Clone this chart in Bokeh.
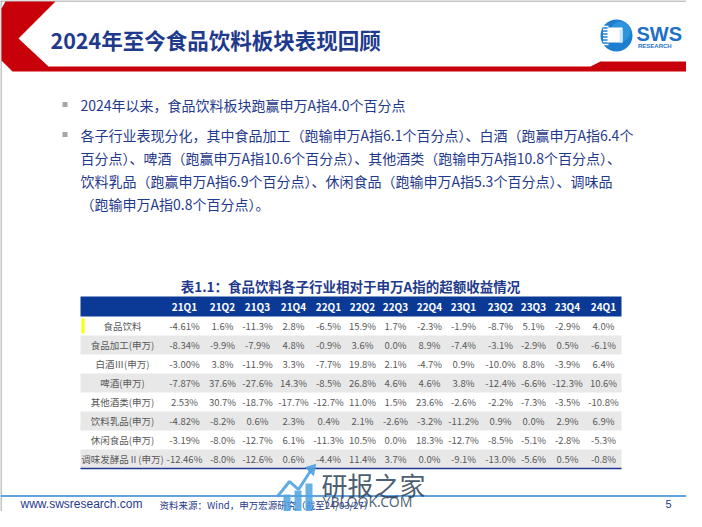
from bokeh.plotting import figure
from bokeh.models import ColumnDataSource, Range1d
from bokeh.core.properties import value
from bokeh.embed import file_html
from bokeh.resources import INLINE

# ---------------- data ----------------
periods = ["21Q1", "21Q2", "21Q3", "21Q4", "22Q1", "22Q2", "22Q3",
           "22Q4", "23Q1", "23Q2", "23Q3", "23Q4", "24Q1"]
industries = ["食品饮料", "食品加工(申万)", "白酒Ⅲ(申万)", "啤酒(申万)",
              "其他酒类(申万)", "饮料乳品(申万)", "休闲食品(申万)", "调味发酵品Ⅱ(申万)"]
food_beverage = [-4.61, 1.6, -11.3, 2.8, -6.5, 15.9, 1.7, -2.3, -1.9, -8.7, 5.1, -2.9, 4.0]
food_processing = [-8.34, -9.9, -7.9, 4.8, -0.9, 3.6, 0.0, 8.9, -7.4, -3.1, -2.9, 0.5, -6.1]
baijiu = [-3.00, 3.8, -11.9, 3.3, -7.7, 19.8, 2.1, -4.7, 0.9, -10.0, 8.8, -3.9, 6.4]
beer = [-7.87, 37.6, -27.6, 14.3, -8.5, 26.8, 4.6, 4.6, 3.8, -12.4, -6.6, -12.3, 10.6]
other_liquor = [2.53, 30.7, -18.7, -17.7, -12.7, 11.0, 1.5, 23.6, -2.6, -2.2, -7.3, -3.5, -10.8]
beverage_dairy = [-4.82, -8.2, 0.6, 2.3, 0.4, 2.1, -2.6, -3.2, -11.2, 0.9, 0.0, 2.9, 6.9]
snacks = [-3.19, -8.0, -12.7, 6.1, -11.3, 10.5, 0.0, 18.3, -12.7, -8.5, -5.1, -2.8, -5.3]
condiments = [-12.46, -8.0, -12.6, 0.6, -4.4, 11.4, 3.7, 0.0, -9.1, -13.0, -5.6, 0.5, -0.8]
table_rows = [food_beverage, food_processing, baijiu, beer, other_liquor,
              beverage_dairy, snacks, condiments]

title_text = "2024年至今食品饮料板块表现回顾"
bullet_lines = [
    "2024年以来，食品饮料板块跑赢申万A指4.0个百分点",
    "各子行业表现分化，其中食品加工（跑输申万A指6.1个百分点）、白酒（跑赢申万A指6.4个",
    "百分点）、啤酒（跑赢申万A指10.6个百分点）、其他酒类（跑输申万A指10.8个百分点）、",
    "饮料乳品（跑赢申万A指6.9个百分点）、休闲食品（跑输申万A指5.3个百分点）、调味品",
    "（跑输申万A指0.8个百分点）。",
]
table_title = "表1.1：食品饮料各子行业相对于申万A指的超额收益情况"
source_text = "资料来源：Wind，申万宏源研究（截至24/03/27）"

# ---------------- layout / style ----------------
W, H = 686, 511
NAVY = "#1F3A8C"
RED = "#C8000A"
CJK = value("Noto Sans CJK SC")

p = figure(width=W, height=H, x_range=Range1d(0, W), y_range=Range1d(H, 0),
           x_axis_type=None, y_axis_type=None, output_backend="svg",
           toolbar_location=None, min_border=0, outline_line_color=None,
           background_fill_color="white", border_fill_color="white")
p.grid.visible = False

# slide frame (left / top edges)
p.segment(x0=[0.5, 0], y0=[0, 0.5], x1=[0.5, W], y1=[H, 0.5], line_color="#8C8C8C", line_width=1)

# red chevron header + band
p.patch([5, 55, 18, 48, 590, 600, 697, 697, 12, 1, 1],
        [1, 1, 38, 66, 66, 61, 61, 71, 71, 60, 8], color=RED, line_color=None)

p.text(x=[50], y=[39], text=[title_text], text_font=CJK, text_font_style="bold",
       text_font_size="21.5px", text_color=NAVY, text_baseline="middle", text_align="left")

# SWS logo
p.circle(x=[616], y=[35], radius=16, fill_color="#1E7FD0", line_color=None)
p.circle(x=[620], y=[31], radius=10, fill_color="#38A4E6", line_color=None, fill_alpha=0.6)
for yy in [26, 29, 32, 35, 38, 41, 44]:
    p.segment(x0=[602.5], y0=[yy], x1=[608], y1=[yy], line_color="white", line_width=1.4)
p.quad(left=[607], right=[622], top=[27], bottom=[42], fill_color="white", line_color=None)
p.quad(left=[619], right=[622], top=[29], bottom=[42], fill_color="#CFE7F7", line_color=None)
p.text(x=[636], y=[33], text=["SWS"], text_font=value("Liberation Sans"), text_font_style="bold",
       text_font_size="20px", text_color="#1E6FC8", text_baseline="middle", text_align="left")
p.text(x=[637.5], y=[45], text=["RESEARCH"], text_font=value("Liberation Sans"), text_font_style="bold",
       text_font_size="6px", text_color="#1E6FC8", text_baseline="middle", text_align="left")

# bullets
bullet_y = [104, 134, 157, 180, 203]
for by in [bullet_y[0], bullet_y[1]]:
    p.quad(left=[62], right=[67], top=[by - 2.5], bottom=[by + 2.5], fill_color="#A6A6A6", line_color=None)
p.text(x=[80] * len(bullet_lines), y=bullet_y, text=bullet_lines, text_font=CJK,
       text_font_size="14px", text_color=NAVY, text_baseline="middle", text_align="left")

# table
p.text(x=[350], y=[285], text=[table_title], text_font=CJK, text_font_style="bold",
       text_font_size="13.5px", text_color=NAVY, text_baseline="middle", text_align="center")

T_LEFT, T_RIGHT = 80, 621
HEAD_TOP, HEAD_BOT = 296, 316
ROW_H = 19
COL_X = [184, 222, 257, 293, 328, 362, 395, 429, 463, 500, 533, 567, 603]
LABEL_X = 122

p.quad(left=[T_LEFT], right=[T_RIGHT], top=[HEAD_TOP], bottom=[HEAD_BOT],
       fill_color="#0B3A96", line_color=None)
p.text(x=COL_X, y=[(HEAD_TOP + HEAD_BOT) / 2] * len(periods), text=periods, text_font=CJK,
       text_font_style="bold", text_font_size="10px", text_color="white",
       text_baseline="middle", text_align="center")

gray_rows = [i for i in range(len(industries)) if i % 2 == 1]
p.quad(left=[T_LEFT] * len(gray_rows), right=[T_RIGHT] * len(gray_rows),
       top=[HEAD_BOT + ROW_H * i for i in gray_rows],
       bottom=[HEAD_BOT + ROW_H * (i + 1) for i in gray_rows],
       fill_color="#E8E8E8", line_color=None)

# yellow marker
p.quad(left=[81], right=[84], top=[HEAD_BOT + 2], bottom=[HEAD_BOT + ROW_H - 2],
       fill_color="#FFFF00", line_color=None)

row_y = [HEAD_BOT + ROW_H * (i + 0.5) for i in range(len(industries))]
p.text(x=[LABEL_X] * len(industries), y=row_y, text=industries, text_font=CJK,
       text_font_size="9.5px", text_color="#595959", text_baseline="middle", text_align="center")

cx, cy, ct = [], [], []
for ri, vals in enumerate(table_rows):
    for ci, v in enumerate(vals):
        cx.append(COL_X[ci])
        cy.append(row_y[ri])
        ct.append(("{:.2f}%" if ci == 0 else "{:.1f}%").format(v))
src = ColumnDataSource(dict(x=cx, y=cy, t=ct))
p.text(x="x", y="y", text="t", source=src, text_font=CJK, text_font_size="9.5px",
       text_color="#595959", text_baseline="middle", text_align="center")

p.segment(x0=[T_LEFT], y0=[HEAD_BOT + ROW_H * len(industries)], x1=[T_RIGHT],
          y1=[HEAD_BOT + ROW_H * len(industries)], line_color=NAVY, line_width=1.5)

# footer
p.segment(x0=[0], y0=[495.5], x1=[W], y1=[495.5], line_color="#2F86D6", line_width=1.5)
p.text(x=[20], y=[503.5], text=["www.swsresearch.com"], text_font=value("Liberation Sans"),
       text_font_size="12px", text_color=NAVY, text_baseline="middle", text_align="left")
p.text(x=[159], y=[504], text=[source_text], text_font=CJK, text_font_size="9.5px",
       text_color=NAVY, text_baseline="middle", text_align="left")
p.text(x=[668], y=[503.5], text=["5"], text_font=value("Liberation Sans"),
       text_font_size="11px", text_color=NAVY, text_baseline="middle", text_align="center")

# watermark
WM = "#4DA3E0"
p.quad(left=[283, 294, 305], right=[290, 301, 312], top=[494, 490, 483], bottom=[H, H, H],
       fill_color=WM, line_color=None, fill_alpha=0.85)
p.line(x=[277, 289, 298, 311], y=[496, 481, 489, 469], line_color=WM, line_width=3, line_alpha=0.9)
p.patch([305, 315, 313], [467, 464, 475], color=WM, alpha=0.9)
p.text(x=[321], y=[484], text=["研报之家"], text_font=CJK, text_font_size="26px",
       text_color="#34495E", text_alpha=0.9, text_baseline="middle", text_align="left")
p.text(x=[322], y=[501], text=["YBLOOK.COM"], text_font=value("Noto Sans"), text_font_size="14px",
       text_color="#34495E", text_alpha=0.85, text_baseline="middle", text_align="left")

open("out.html", "w").write(file_html(p, INLINE))
